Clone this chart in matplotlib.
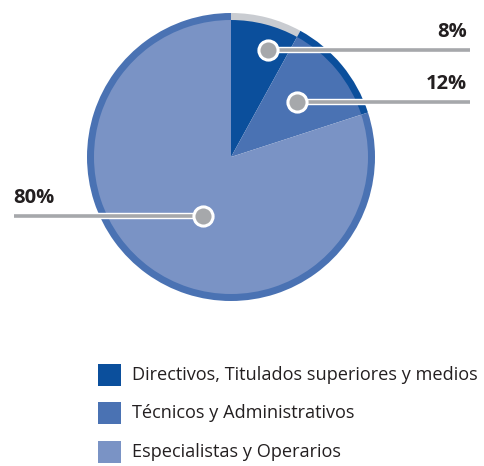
import matplotlib.pyplot as plt
import matplotlib.patheffects as pe

# datos
categorias = ['Directivos, Titulados superiores y medios',
              'Técnicos y Administrativos',
              'Especialistas y Operarios']
valores = [8, 12, 80]
etiquetas = ['8%', '12%', '80%']

col_pie = ['#0b4f9c', '#4a72b3', '#7a93c5']
col_aro = ['#c9ccd1', '#0b4f9c', '#4a72b3']
gris = '#a6a8ab'
texto = '#231f20'

plt.rcParams['font.family'] = ['Open Sans', 'DejaVu Sans']

W, H = 484, 466
fig = plt.figure(figsize=(W / 100, H / 100), dpi=100)
ax = fig.add_axes([0, 0, 1, 1])

cx, cy = 231, H - 157
# aro exterior
ax.pie(valores, colors=col_aro, radius=144, center=(cx, cy), startangle=90,
       counterclock=False, wedgeprops=dict(width=8, linewidth=0))
# tarta interior
ax.pie(valores, colors=col_pie, radius=137, center=(cx, cy), startangle=90,
       counterclock=False, wedgeprops=dict(linewidth=0))

# etiquetas: punto, linea y texto (posiciones en pixeles)
puntos = [(268, 50), (297, 102), (203, 216)]
fin_linea = [470, 470, 14]
for (px, py), xf, lab in zip(puntos, fin_linea, etiquetas):
    yy = H - py
    ax.plot([px, xf], [yy, yy], color=gris, lw=2.6, solid_capstyle='butt',
            path_effects=[pe.Stroke(linewidth=4.6, foreground='white'), pe.Normal()],
            zorder=5)
    ax.scatter([px], [yy], s=190, color=gris, edgecolor='white', linewidth=2.2, zorder=6)
    if xf > px:
        ax.text(xf - 3, yy + 8, lab, ha='right', va='bottom', fontsize=14.5,
                fontweight='bold', color=texto)
    else:
        ax.text(xf - 1, yy + 8, lab, ha='left', va='bottom', fontsize=14.5,
                fontweight='bold', color=texto)

# leyenda
ys = [375, 413, 452]
for c, cat, y in zip(col_pie, categorias, ys):
    ax.add_patch(plt.Rectangle((98, H - y - 11), 23, 22, color=c, lw=0))
    ax.text(132, H - y, cat, ha='left', va='center', fontsize=13.1, color=texto)

ax.set_xlim(0, W)
ax.set_ylim(0, H)
ax.set_aspect('auto')
ax.axis('off')
fig.savefig('out.png', dpi=100)
